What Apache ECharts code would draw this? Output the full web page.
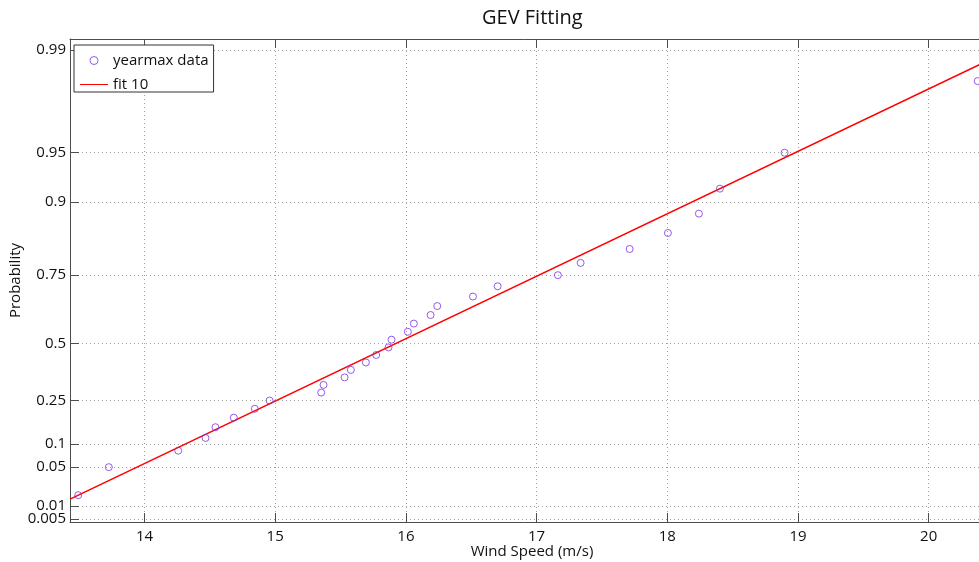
<!DOCTYPE html>
<html>
<head>
<meta charset="utf-8">
<script src="https://cdn.jsdelivr.net/npm/echarts@6/dist/echarts.min.js"></script>
<style>
html,body{margin:0;padding:0;background:#fff;}
#c{width:979px;height:562px;}
</style>
</head>
<body>
<div id="c"></div>
<script>
// ---- data ----
const dataSpeed = [13.493, 13.727, 14.258, 14.467, 14.543, 14.683, 14.844, 14.957, 15.352, 15.370,
  15.531, 15.579, 15.694, 15.773, 15.867, 15.890, 16.015, 16.061, 16.189, 16.240,
  16.513, 16.702, 17.163, 17.337, 17.712, 18.005, 18.242, 18.403, 18.898, 20.375];
const dataProb = [0.0167, 0.05, 0.0833, 0.1167, 0.15, 0.1833, 0.2167, 0.25, 0.2833, 0.3167,
  0.35, 0.3833, 0.4167, 0.45, 0.4833, 0.5167, 0.55, 0.5833, 0.6167, 0.65,
  0.6833, 0.7167, 0.75, 0.7833, 0.8167, 0.85, 0.8833, 0.9167, 0.95, 0.9833];
const fitSpeed = [13.43, 20.5];
const fitProb = [0.0139, 0.9886];
const yTickProbs = [0.005, 0.01, 0.05, 0.1, 0.25, 0.5, 0.75, 0.9, 0.95, 0.99];
const yTickLabels = ['0.005', '0.01', '0.05', '0.1', '0.25', '0.5', '0.75', '0.9', '0.95', '0.99'];
const xTicks = [14, 15, 16, 17, 18, 19, 20];
const seriesNames = ['yearmax data', 'fit 10'];

// GEV probability-paper scale (shape 0.07)
const K = 0.07;
function T(p) { return (1 - Math.pow(-Math.log(p), K)) / K; }

const yTickVals = yTickProbs.map(T);
function yLabel(v) {
  let best = 0, bd = Infinity;
  yTickVals.forEach((t, i) => { const d = Math.abs(t - v); if (d < bd) { bd = d; best = i; } });
  return yTickLabels[best];
}

const FONT = 'Open Sans';
const frame = '#4d4d4d';
const gridLine = { show: true, showMinLine: true, showMaxLine: true, lineStyle: { color: '#a0a0a0', type: [1, 3], width: 1 } };
const yMin = -1.807, yMax = 4.064;
const yLabelStyle = { fontFamily: FONT, fontSize: 15, color: '#111', margin: 4, hideOverlap: false, showMinLabel: true, showMaxLabel: true };

const chart = echarts.init(document.getElementById('c'), null, { renderer: 'canvas' });
chart.setOption({
  animation: false,
  backgroundColor: '#fff',
  title: {
    text: 'GEV Fitting', left: 477, top: 3,
    textStyle: { fontFamily: FONT, fontSize: 20, fontWeight: 'normal', color: '#111' }
  },
  legend: {
    orient: 'vertical', left: 74, top: 45,
    data: [
      { name: seriesNames[0], icon: 'circle', itemStyle: { borderWidth: 1 } },
      { name: seriesNames[1], icon: 'path://M0,0 L28,0 L28,1 L0,1 Z' }
    ],
    backgroundColor: '#fff', borderColor: '#333', borderWidth: 1, borderRadius: 0,
    padding: [8, 5, 0, 6], itemGap: 9, itemWidth: 28, itemHeight: 8,
    textStyle: { fontFamily: FONT, fontSize: 15, color: '#111' }
  },
  grid: { left: 70, right: -15, top: 39, bottom: 40, containLabel: false, outerBoundsMode: 'none' },
  xAxis: [{
    type: 'value', min: 13.43, max: 20.5, position: 'bottom',
    name: 'Wind Speed (m/s)', nameLocation: 'middle', nameGap: 22, nameMoveOverlap: false,
    nameTextStyle: { fontFamily: FONT, fontSize: 15, color: '#111' },
    axisLine: { show: true, onZero: false, lineStyle: { color: frame, width: 1 } },
    axisTick: { show: true, inside: true, length: 9, customValues: xTicks, lineStyle: { color: frame } },
    axisLabel: { customValues: xTicks, fontFamily: FONT, fontSize: 15, color: '#111', margin: 7, hideOverlap: false },
    splitLine: gridLine
  }, {
    type: 'value', min: 13.43, max: 20.5, position: 'top',
    axisLine: { show: true, onZero: false, lineStyle: { color: frame, width: 1 } },
    axisTick: { show: true, inside: true, length: 9, customValues: xTicks, lineStyle: { color: frame } },
    axisLabel: { show: false, customValues: xTicks },
    splitLine: { show: false }
  }],
  yAxis: [{
    type: 'value', min: yMin, max: yMax, position: 'left',
    name: 'Probability', nameLocation: 'middle', nameGap: 47, nameMoveOverlap: false,
    nameTextStyle: { fontFamily: FONT, fontSize: 15, color: '#111' },
    axisLine: { show: true, onZero: false, lineStyle: { color: frame, width: 1 } },
    axisTick: { show: true, inside: true, length: 9, customValues: yTickVals, lineStyle: { color: frame } },
    axisLabel: Object.assign({ customValues: yTickVals.slice(1), formatter: yLabel }, yLabelStyle),
    splitLine: gridLine
  }, {
    type: 'value', min: yMin, max: yMax, position: 'left', offset: 0,
    axisLine: { show: false }, axisTick: { show: false }, splitLine: { show: false },
    axisLabel: Object.assign({ customValues: yTickVals.slice(0, 1), formatter: yLabel }, yLabelStyle)
  }],
  series: [{
    name: seriesNames[0], type: 'scatter', yAxisIndex: 0,
    data: dataSpeed.map((x, i) => [x, T(dataProb[i])]),
    symbol: 'circle', symbolSize: 7,
    itemStyle: { color: 'rgba(255,255,255,0)', borderColor: '#7b35e0', borderWidth: 1 },
    z: 3
  }, {
    name: seriesNames[1], type: 'line', yAxisIndex: 0,
    data: fitSpeed.map((x, i) => [x, T(fitProb[i])]),
    showSymbol: false, symbol: 'none',
    lineStyle: { color: '#ff0000', width: 1.5 },
    itemStyle: { color: '#ff0000' },
    z: 2
  }]
});
</script>
</body>
</html>
